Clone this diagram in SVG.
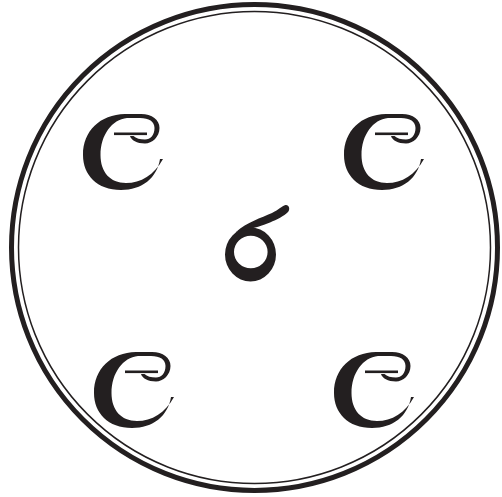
<svg xmlns="http://www.w3.org/2000/svg" width="502" height="497" viewBox="0 0 502 497">
<style>
.ring{fill:none;stroke:#231f20}
.ink{fill:#231f20}
</style>
<defs>
<g id="cglyph">
<path class="ink" d="M160,159 C157,178 142,190 121,190 C97,190 83,175 83,155 C83,131 100,114.5 125,114 L141,114 C152,114 159.5,120 159.5,128 C159.5,137 152,143.5 145,143.5 C137,143.5 131,140 130,136 L133.5,136 C136,138.5 140,139.5 145,139.5 C150.5,139.5 154.5,135 154.5,128 C154.5,121.5 149,118 140,118 L127,118 C112,119.5 100.5,135 100.5,155 C100.5,172 110,183 126,183 C141,183 154,175 163,159 Z"/>
<rect class="ink" x="114" y="132.5" width="33" height="2.6"/>
</g>
</defs>
<rect width="502" height="497" fill="#fff"/>
<g id="ring">
<circle class="ring" cx="254.5" cy="247.5" r="243" stroke-width="5"/>
<circle class="ring" cx="254.5" cy="247.5" r="236" stroke-width="1.5"/>
</g>
<g id="n1"><use href="#cglyph"/></g>
<g id="n2"><use href="#cglyph" transform="translate(261,0)"/></g>
<g id="n3"><use href="#cglyph" transform="translate(11,238)"/></g>
<g id="n4"><use href="#cglyph" transform="translate(251,238)"/></g>
<g id="n5">
<path class="ink" fill-rule="evenodd" d="M225,254.5 A25.5,27 0 1 0 276,254.5 A25.5,27 0 1 0 225,254.5 Z M234,252 A16.8,16.3 0 1 0 267.6,252 A16.8,16.3 0 1 0 234,252 Z"/>
<path class="ink" d="M236,232 C247,222 261,218 272,213 C278,210 282,206 285.5,205 C289,204.5 290.5,209 288,212 C284,216 277,219.5 270,222.5 C262,226 254,227.5 247,230 Z"/>
</g>
<g id="connectors"></g>
</svg>
